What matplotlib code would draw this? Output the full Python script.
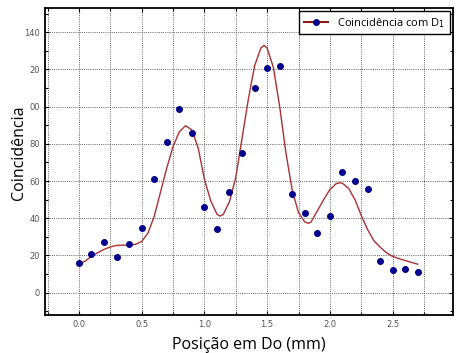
import numpy as np
import matplotlib
matplotlib.use("Agg")
import matplotlib.pyplot as plt
from matplotlib.ticker import MultipleLocator, FixedLocator

# medidas (pontos)
pos = [0.0, 0.1, 0.2, 0.3, 0.4, 0.5, 0.6, 0.7, 0.8, 0.9, 1.0, 1.1, 1.2, 1.3,
       1.4, 1.5, 1.6, 1.7, 1.8, 1.9, 2.0, 2.1, 2.2, 2.3, 2.4, 2.5, 2.6, 2.7]
coinc = [16, 21, 27, 19, 26, 35, 61, 81, 99, 86, 46, 34, 54, 75,
         110, 121, 122, 53, 43, 32, 41, 65, 60, 56, 17, 12, 13, 11]

# curva ajustada
fit_x = [0.0, 0.05, 0.1, 0.15, 0.2, 0.25, 0.3, 0.35, 0.4, 0.45, 0.5, 0.55, 0.6,
         0.65, 0.7, 0.75, 0.8, 0.85, 0.9, 0.95, 1.0, 1.05, 1.1, 1.125, 1.15, 1.2,
         1.25, 1.3, 1.35, 1.4, 1.45, 1.475, 1.5, 1.55, 1.6, 1.65, 1.7, 1.75, 1.8,
         1.83, 1.85, 1.9, 1.95, 2.0, 2.05, 2.08, 2.1, 2.15, 2.2, 2.25, 2.3, 2.35,
         2.4, 2.45, 2.5, 2.55, 2.6, 2.65, 2.7]
fit_y = [15.3, 17, 19.5, 21.5, 23.3, 24.6, 25.4, 25.6, 25.5, 26, 27.5, 32, 41,
         54, 67, 78.5, 86.5, 89.8, 87.5, 78, 61, 49.5, 42.2, 41.2, 42, 49,
         62, 83, 104, 122, 131.5, 133, 131.5, 121, 100, 75, 55, 43, 38,
         37.3, 38, 44, 50, 55.5, 58.6, 59.1, 58.8, 56, 50, 41.5, 34, 28,
         24.5, 21.5, 19.5, 18.3, 17.3, 16.3, 15.3]

ytick_vals = [0, 20, 40, 60, 80, 100, 120, 140]
ytick_txt = ["0", "20", "40", "60", "80", "00", "20", "140"]
xtick_vals = [0.0, 0.5, 1.0, 1.5, 2.0, 2.5, 3.0]

fig = plt.figure(figsize=(4.57, 3.53), dpi=100)
ax = fig.add_axes([0.0985, 0.1076, 0.8925, 0.8694])

ax.plot(fit_x, fit_y, color="#a83232", lw=1.0, zorder=2)
ax.plot(pos, coinc, "o", color="#00008b", ms=4, zorder=3)

# só para a legenda
ax.plot([], [], color="#8b1a1a", lw=1.5, marker="o", ms=4, mfc="#00008b",
        mec="#00008b", label="Coincidência com D$_1$")

ax.set_xlim(-0.27, 2.98)
ax.set_ylim(-12, 153)

ax.xaxis.set_major_locator(FixedLocator(xtick_vals))
ax.xaxis.set_minor_locator(MultipleLocator(0.25))
ax.yaxis.set_major_locator(FixedLocator(ytick_vals))
ax.yaxis.set_minor_locator(MultipleLocator(10))
ax.set_yticklabels(ytick_txt)
ax.set_xticklabels(["%.1f" % v for v in xtick_vals])

grid_kw = dict(linestyle=(0, (1, 1.2)), color="#666666", lw=0.7)
ax.grid(True, which="major", axis="y", **grid_kw)
ax.grid(True, which="both", axis="x", **grid_kw)
ax.tick_params(which="both", direction="in", top=True, right=True,
               labelsize=6, labelcolor="#555555", length=3, width=0.8)
ax.tick_params(which="minor", length=2)
for s in ax.spines.values():
    s.set_linewidth(1.3)

ax.set_xlabel("Posição em Do (mm)", fontsize=11.5, family="Open Sans", labelpad=6)
ax.set_ylabel("Coincidência", fontsize=11.5, family="Open Sans")
ax.yaxis.set_label_coords(-0.045, 0.53)

leg = ax.legend(loc="upper right", fancybox=False, framealpha=1,
                edgecolor="black", borderaxespad=0.3, handlelength=2.2,
                prop={"family": "Open Sans", "size": 8})
leg.get_frame().set_linewidth(1.0)

fig.savefig("out.png", dpi=100)
